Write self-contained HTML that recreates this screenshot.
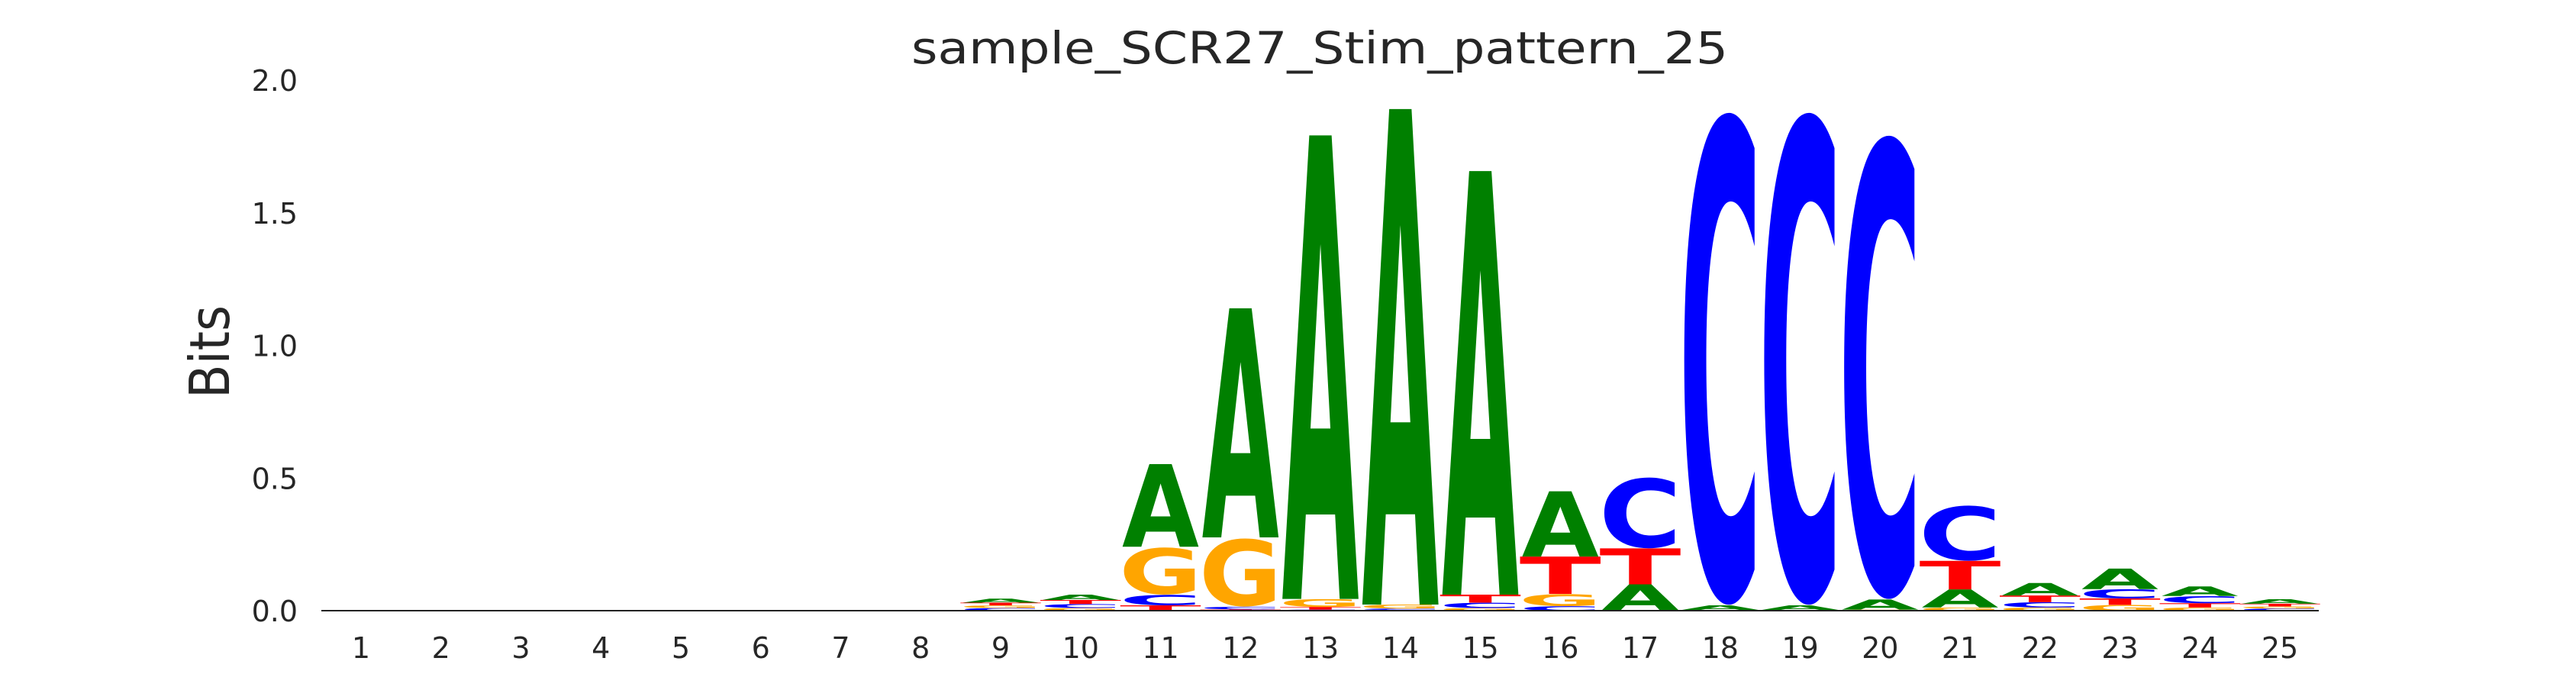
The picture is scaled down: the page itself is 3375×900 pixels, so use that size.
<!DOCTYPE html>
<html><head><meta charset="utf-8"><style>
html,body{margin:0;padding:0;background:#fff;overflow:hidden;width:3375px;height:900px;}
svg{display:block;position:absolute;left:0;top:0;}
text{font-family:"DejaVu Sans","Liberation Sans",sans-serif;}
</style></head><body>
<svg id="chart" width="3375" height="900" viewBox="0 0 3375 900" overflow="hidden" xmlns="http://www.w3.org/2000/svg">
<defs><clipPath id="plotclip"><rect x="0" y="0" width="3375" height="900"/></clipPath></defs>
<text x="1729" y="83" font-size="58" fill="#262626" text-anchor="middle" textLength="1070" lengthAdjust="spacingAndGlyphs">sample_SCR27_Stim_pattern_25</text>
<text transform="translate(300,461) rotate(-90)" font-size="72" fill="#262626" text-anchor="middle" textLength="122" lengthAdjust="spacingAndGlyphs">Bits</text>
<g id="yticks"></g>
<g id="xticks"></g>
<g id="logo" clip-path="url(#plotclip)"></g>
<line x1="421" y1="800" x2="3038" y2="800" stroke="#222" stroke-width="2"/>
</svg>
<script>
const positions = [1,2,3,4,5,6,7,8,9,10,11,12,13,14,15,16,17,18,19,20,21,22,23,24,25];
const valA = [0,0,0,0,0,0,0,0,0.015,0.02,0.31,0.86,1.74,1.86,1.59,0.245,0.096,0.017,0.017,0.038,0.068,0.047,0.077,0.036,0.017];
const valC = [0,0,0,0,0,0,0,0,0.01,0.015,0.04,0.01,0.004,0.005,0.02,0.017,0.27,1.88,1.88,1.77,0.211,0.02,0.035,0.027,0.008];
const valG = [0,0,0,0,0,0,0,0,0.01,0.01,0.18,0.26,0.03,0.015,0.01,0.046,0.003,0.002,0.002,0.003,0.012,0.012,0.022,0.012,0.008];
const valT = [0,0,0,0,0,0,0,0,0.01,0.015,0.02,0.005,0.01,0.003,0.03,0.14,0.135,0.001,0.001,0.001,0.107,0.025,0.024,0.016,0.01];
const yTicks = [0.0,0.5,1.0,1.5,2.0];
const yTickLabels = ["0.0","0.5","1.0","1.5","2.0"];

const NS="http://www.w3.org/2000/svg";
const x0=473, step=104.75, y0=800, ppb=349, tickPpb=347.5;
function xs(p){return x0+(p-1)*step;}
function ys(v){return y0-v*ppb;}
function yt(v){return y0-v*tickPpb;}
const colors={A:'#008000',C:'#0000ff',G:'#ffa500',T:'#ff0000'};

const yg=document.getElementById('yticks');
yTicks.forEach((v,i)=>{
  const t=document.createElementNS(NS,'text');
  
  
  t.setAttribute('x',390);t.setAttribute('y',yt(v)+14);
  t.setAttribute('font-size','38');t.setAttribute('fill','#262626');
  t.setAttribute('text-anchor','end');
  t.textContent=yTickLabels[i];yg.appendChild(t);
});
const xg=document.getElementById('xticks');
positions.forEach(p=>{
  const t=document.createElementNS(NS,'text');
  
  
  t.setAttribute('x',xs(p));t.setAttribute('y',862);
  t.setAttribute('font-size','38');t.setAttribute('fill','#262626');
  t.setAttribute('text-anchor','middle');
  t.textContent=String(p);xg.appendChild(t);
});
const lg=document.getElementById('logo');
const W=97;
positions.forEach((p,i)=>{
  const items=[['A',valA[i]],['C',valC[i]],['G',valG[i]],['T',valT[i]]].filter(d=>d[1]>0).sort((a,b)=>a[1]-b[1]);
  let base=0;
  items.forEach(([L,v])=>{
    const bottom=ys(base), h=v*ppb;
    const round=(L==='C'||L==='G');
    const top=round?75.5:72.9, bot=round?1.5:0;
    const sy=h/(top+bot);
    const t=document.createElementNS(NS,'text');
    
    
    t.setAttribute('transform','translate('+xs(p)+','+(bottom-bot*sy)+') scale(1,'+sy+')');
    t.setAttribute('x',0);t.setAttribute('y',0);
    t.setAttribute('font-size','100');t.setAttribute('font-weight','bold');
    t.setAttribute('fill',colors[L]);t.setAttribute('text-anchor','middle');
    t.setAttribute('textLength',W+ (L==='A'?4:(L==='T'?10:12)));
    t.setAttribute('lengthAdjust','spacingAndGlyphs');
    t.textContent=L;lg.appendChild(t);
    base+=v;
  });
});
</script>
</body></html>
